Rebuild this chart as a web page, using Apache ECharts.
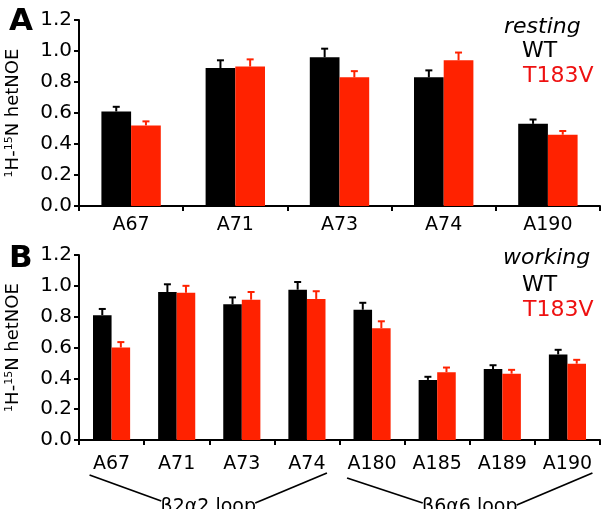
<!DOCTYPE html>
<html>
<head>
<meta charset="utf-8">
<script src="https://cdn.jsdelivr.net/npm/echarts@6/dist/echarts.min.js"></script>
<style>
  html, body { margin: 0; padding: 0; background: #fff; }
  #chart { width: 601px; height: 509px; }
</style>
</head>
<body>
<div id="chart"></div>
<script>
  // panel A (resting)
  var restCats = ['A67', 'A71', 'A73', 'A74', 'A190'];
  var restWT = [0.61, 0.89, 0.96, 0.83, 0.53];
  var restWTErr = [0.03, 0.05, 0.055, 0.045, 0.028];
  var restMut = [0.52, 0.90, 0.83, 0.94, 0.46];
  var restMutErr = [0.026, 0.046, 0.04, 0.05, 0.024];

  // panel B (working)
  var workCats = ['A67', 'A71', 'A73', 'A74', 'A180', 'A185', 'A189', 'A190'];
  var workWT = [0.81, 0.96, 0.88, 0.975, 0.845, 0.39, 0.46, 0.555];
  var workWTErr = [0.04, 0.05, 0.045, 0.05, 0.045, 0.02, 0.025, 0.03];
  var workMut = [0.60, 0.955, 0.91, 0.915, 0.725, 0.44, 0.43, 0.495];
  var workMutErr = [0.035, 0.045, 0.05, 0.05, 0.045, 0.03, 0.025, 0.025];

  var yTicks = [0, 0.2, 0.4, 0.6, 0.8, 1.0, 1.2];

  var FONT = 'DejaVu Sans';
  var RED = '#ff2200';
  var GAP = 0.43;

  function xAxis(idx, cats, margin) {
    return {
      type: 'category', gridIndex: idx, data: cats,
      axisLine: { lineStyle: { color: '#000', width: 2 } },
      axisTick: { show: true, length: 5, lineStyle: { color: '#000', width: 2 } },
      axisLabel: { color: '#000', fontSize: 19, fontFamily: FONT, margin: margin }
    };
  }

  function yAxis(idx) {
    return {
      type: 'value', gridIndex: idx, min: 0, max: 1.2, interval: 0.2,
      name: '{s|1}H-{s|15}N hetNOE', nameLocation: 'middle', nameGap: 57, nameRotate: 90,
      nameTextStyle: {
        color: '#000', fontSize: 18, fontFamily: FONT,
        rich: { s: { fontSize: 11, fontFamily: FONT, color: '#000', verticalAlign: 'top', lineHeight: 18 } }
      },
      splitLine: { show: false },
      axisLine: { show: true, lineStyle: { color: '#000', width: 2 } },
      axisTick: { show: true, length: 5, lineStyle: { color: '#000', width: 2 } },
      axisLabel: {
        color: '#000', fontSize: 20, fontFamily: FONT, margin: 7,
        formatter: function (v) { return yTicks.indexOf(Math.round(v * 10) / 10) >= 0 ? v.toFixed(1) : ''; }
      }
    };
  }

  function barSeries(name, idx, values, color) {
    return {
      name: name, type: 'bar', xAxisIndex: idx, yAxisIndex: idx, data: values,
      barGap: '0%', barCategoryGap: (GAP * 100) + '%',
      itemStyle: { color: color }, z: 2
    };
  }

  // error bars drawn upward from bar top, centred on the bar
  function errSeries(idx, values, errs, color, side) {
    return {
      type: 'custom', xAxisIndex: idx, yAxisIndex: idx, z: 3,
      data: values.map(function (v, i) { return [i, v, v + errs[i]]; }),
      renderItem: function (params, api) {
        var base = api.coord([api.value(0), api.value(1)]);
        var top = api.coord([api.value(0), api.value(2)]);
        var band = api.size([1, 0])[0];
        var bw = band * (1 - GAP) / 2;
        var x = base[0] + side * bw / 2;
        return {
          type: 'group',
          children: [
            { type: 'line', shape: { x1: x, y1: base[1], x2: x, y2: top[1] }, style: { stroke: color, lineWidth: 2 } },
            { type: 'line', shape: { x1: x - 3.5, y1: top[1], x2: x + 3.5, y2: top[1] }, style: { stroke: color, lineWidth: 2 } }
          ]
        };
      }
    };
  }

  var chart = echarts.init(document.getElementById('chart'));

  chart.setOption({
    animation: false,
    backgroundColor: '#fff',
    grid: [
      { left: 79, right: 1, top: 20, height: 186, outerBoundsMode: 'none', containLabel: false },
      { left: 79, right: 1, top: 255, height: 185, outerBoundsMode: 'none', containLabel: false }
    ],
    xAxis: [xAxis(0, restCats, 10), xAxis(1, workCats, 15)],
    yAxis: [yAxis(0), yAxis(1)],
    series: [
      barSeries('WT', 0, restWT, '#000'),
      barSeries('T183V', 0, restMut, RED),
      errSeries(0, restWT, restWTErr, '#000', -1),
      errSeries(0, restMut, restMutErr, RED, 1),
      barSeries('WT', 1, workWT, '#000'),
      barSeries('T183V', 1, workMut, RED),
      errSeries(1, workWT, workWTErr, '#000', -1),
      errSeries(1, workMut, workMutErr, RED, 1)
    ]
  });

  // loop brackets under panel B, tied to the category positions
  function px(cat) { return chart.convertToPixel({ xAxisIndex: 1 }, cat); }
  var l1a = px('A67') - 22, l1b = px('A74') + 20;
  var l2a = px('A180') - 25, l2b = px('A190') + 25;
  var mid1 = (l1a + l1b) / 2, mid2 = (l2a + l2b) / 2;
  var lineStyle = { stroke: '#000', lineWidth: 1.8 };

  chart.setOption({
    graphic: [
      { type: 'text', left: 9, top: 6, style: { text: 'A', fontSize: 31, fontWeight: 'bold', fontFamily: FONT, fill: '#000' } },
      { type: 'text', left: 9, top: 243, style: { text: 'B', fontSize: 31, fontWeight: 'bold', fontFamily: FONT, fill: '#000' } },
      { type: 'text', left: 504, top: 16, style: { text: 'resting', fontSize: 22, fontStyle: 'italic', fontFamily: FONT, fill: '#000' } },
      { type: 'text', left: 522, top: 40, style: { text: 'WT', fontSize: 22, fontFamily: FONT, fill: '#000' } },
      { type: 'text', left: 523, top: 65, style: { text: 'T183V', fontSize: 22, fontFamily: FONT, fill: '#ee1111' } },
      { type: 'text', left: 503, top: 247, style: { text: 'working', fontSize: 22, fontStyle: 'italic', fontFamily: FONT, fill: '#000' } },
      { type: 'text', left: 522, top: 274, style: { text: 'WT', fontSize: 22, fontFamily: FONT, fill: '#000' } },
      { type: 'text', left: 523, top: 299, style: { text: 'T183V', fontSize: 22, fontFamily: FONT, fill: '#ee1111' } },
      { type: 'line', shape: { x1: l1a, y1: 475, x2: mid1 - 47, y2: 501 }, style: lineStyle },
      { type: 'line', shape: { x1: mid1 + 47, y1: 503, x2: l1b, y2: 473 }, style: lineStyle },
      { type: 'text', x: mid1, y: 507, style: { text: 'β2α2 loop', fontSize: 19, fontFamily: FONT, fill: '#000', align: 'center', verticalAlign: 'middle' } },
      { type: 'line', shape: { x1: l2a, y1: 478, x2: mid2 - 47, y2: 503 }, style: lineStyle },
      { type: 'line', shape: { x1: mid2 + 47, y1: 505, x2: l2b, y2: 473 }, style: lineStyle },
      { type: 'text', x: mid2, y: 507, style: { text: 'β6α6 loop', fontSize: 19, fontFamily: FONT, fill: '#000', align: 'center', verticalAlign: 'middle' } }
    ]
  });
</script>
</body>
</html>
